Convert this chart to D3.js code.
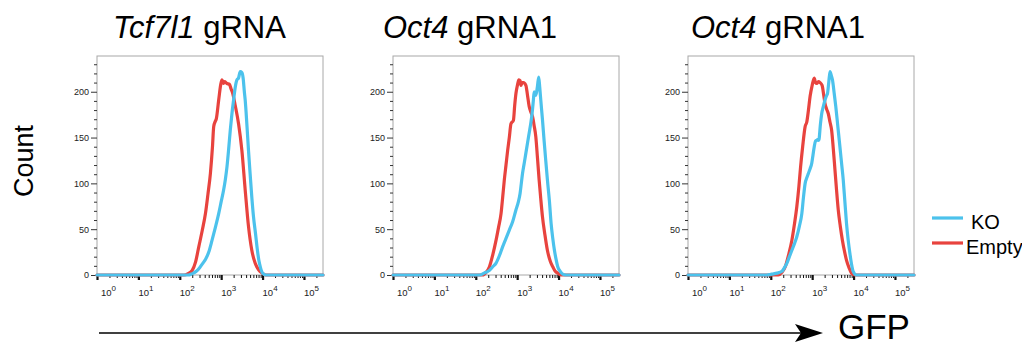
<!DOCTYPE html>
<html lang="en">
<head>
<meta charset="UTF-8">
<title>GFP histograms</title>
<script src="https://d3js.org/d3.v7.min.js"></script>
<style>
    body { margin: 0; background: #fff; }
    svg text { font-family: "Liberation Sans", Arial, sans-serif; fill: #000; }
    .frame { fill: none; stroke: #a8a8a8; stroke-width: 1px; }
    .yax line { stroke: #333; }
    .yax text { fill: #222; font-size: 9px; }
    .xax line { stroke: #111; }
    .xlab { fill: #222; font-size: 9.5px; }
    .hist { fill: none; stroke-width: 3.2px; stroke-linejoin: round; stroke-linecap: round; }
</style>
</head>
<body>
<script>
    const width = 1022, height = 347;

    // panel titles: italic gene + plain guide name
    const genes = ["Tcf7l1", "Oct4", "Oct4"];
    const guides = [" gRNA", " gRNA1", " gRNA1"];

    const yTicks = [0, 50, 100, 150, 200];
    const xDecades = [0, 1, 2, 3, 4, 5];

    const seriesNames = ["KO", "Empty"];
    const colors = {KO: "#4cc2ec", Empty: "#e8433e"};

    // histograms: [log10 GFP, count]
    const ko1 = [[0,0],[2.2,0],[2.3,1.5],[2.4,4],[2.48,8],[2.56,13],[2.62,17],[2.7,25],[2.78,38],[2.86,52],[2.94,67],[3.0,80],[3.06,93],[3.1,104],[3.14,118],[3.18,137],[3.22,158],[3.26,176],[3.3,191],[3.34,205],[3.38,213],[3.42,215],[3.46,222],[3.5,221],[3.53,215],[3.56,200],[3.58,191],[3.62,165],[3.66,136],[3.7,110],[3.74,85],[3.78,64],[3.83,45],[3.87,29],[3.91,16],[3.95,8],[4.0,2],[4.08,0],[5.46,0]];
    const empty1 = [[0,0],[2.1,0],[2.2,1.5],[2.3,5],[2.38,14],[2.46,31],[2.54,48],[2.62,67],[2.68,88],[2.74,111],[2.79,140],[2.82,162],[2.86,168],[2.88,170],[2.94,191],[2.99,208],[3.02,213],[3.05,209],[3.08,211],[3.14,209],[3.2,208],[3.24,203],[3.28,198],[3.34,185],[3.42,165],[3.5,136],[3.58,93],[3.66,53],[3.74,27],[3.82,13],[3.9,6],[3.99,2],[4.07,0],[5.46,0]];

    const ko2 = [[0,0],[2.09,0],[2.2,2],[2.33,5],[2.41,9],[2.49,13],[2.57,21],[2.65,31],[2.73,40],[2.81,49],[2.89,58],[2.97,71],[3.03,80],[3.07,89],[3.1,100],[3.13,111],[3.17,122],[3.21,133],[3.25,144],[3.29,155],[3.33,166],[3.36,176],[3.39,190],[3.41,200],[3.45,196],[3.49,206],[3.52,216],[3.545,205],[3.57,191],[3.61,170],[3.65,147],[3.69,125],[3.73,104],[3.78,80],[3.82,56],[3.86,40],[3.9,27],[3.94,17],[3.98,9],[4.04,4],[4.1,1],[4.18,0],[5.46,0]];
    const empty2 = [[0,0],[2.17,0],[2.25,3],[2.33,9],[2.41,22],[2.49,38],[2.55,52],[2.61,67],[2.65,85],[2.69,104],[2.73,120],[2.77,136],[2.81,150],[2.85,165],[2.91,169],[2.94,185],[2.97,198],[3.01,208],[3.04,213],[3.07,212],[3.09,207],[3.12,210],[3.15,210],[3.21,207],[3.25,196],[3.29,184],[3.33,178],[3.37,173],[3.41,163],[3.45,151],[3.49,128],[3.53,104],[3.57,83],[3.61,64],[3.67,44],[3.73,27],[3.8,15],[3.86,9],[3.92,4],[3.98,2],[4.06,0],[5.46,0]];

    const ko3 = [[0,0],[1.9,0],[2.02,1],[2.15,2],[2.27,4],[2.33,8],[2.39,13],[2.45,20],[2.51,27],[2.57,34],[2.63,42],[2.69,53],[2.75,67],[2.79,85],[2.83,100],[2.87,106],[2.91,111],[2.95,116],[2.99,122],[3.02,131],[3.05,140],[3.08,146],[3.11,147],[3.14,148],[3.16,147],[3.2,165],[3.23,176],[3.27,184],[3.31,191],[3.35,196],[3.37,198],[3.4,210],[3.43,222],[3.46,218],[3.49,213],[3.53,199],[3.57,184],[3.62,162],[3.67,140],[3.71,122],[3.75,104],[3.79,80],[3.83,56],[3.87,38],[3.91,24],[3.95,12],[3.99,4],[4.07,0],[5.46,0]];
    const empty3 = [[0,0],[2.18,0],[2.27,3],[2.35,9],[2.43,22],[2.51,38],[2.57,55],[2.63,75],[2.68,97],[2.72,118],[2.77,140],[2.83,162],[2.87,167],[2.91,180],[2.95,195],[3.0,207],[3.05,215],[3.08,210],[3.11,209],[3.15,211],[3.19,210],[3.24,207],[3.28,196],[3.31,187],[3.35,181],[3.39,176],[3.43,167],[3.47,158],[3.51,138],[3.55,115],[3.59,92],[3.63,71],[3.68,53],[3.73,38],[3.78,26],[3.83,16],[3.89,8],[3.95,2],[4.03,0],[5.46,0]];

    const panelData = [
        {KO: ko1, Empty: empty1},
        {KO: ko2, Empty: empty2},
        {KO: ko3, Empty: empty3}
    ];

    // layout
    const plotLeft = [97, 393, 688];
    const titleLeft = [113, 383, 691];
    const plotW = 226, plotTop = 56, plotBottom = 275;
    const xMaxExp = 5.46;

    const svg = d3.select("body").append("svg")
        .attr("width", width)
        .attr("height", height);

    const y = d3.scaleLinear().domain([0, 239]).range([plotBottom, plotTop]);

    plotLeft.forEach((left, i) => {
        const x = d3.scaleLog().domain([1, Math.pow(10, xMaxExp)]).range([left, left + plotW]);
        const g = svg.append("g");

        g.append("rect").attr("class", "frame")
            .attr("x", left).attr("y", plotTop)
            .attr("width", plotW).attr("height", plotBottom - plotTop);

        // y axis: minor every 10, major every 50
        const yMinor = d3.range(10, 240, 10).filter(v => v % 50 !== 0);
        g.append("g").attr("class", "yax")
            .attr("transform", `translate(${left},0)`)
            .call(d3.axisLeft(y).tickValues(yMinor).tickSize(3).tickFormat(""))
            .call(a => a.select(".domain").remove());
        g.append("g").attr("class", "yax")
            .attr("transform", `translate(${left},0)`)
            .call(d3.axisLeft(y).tickValues(yTicks).tickSize(6).tickPadding(2))
            .call(a => a.select(".domain").remove());

        // x axis: decade ticks + 2..9 minor ticks
        const xMinor = [];
        xDecades.forEach(d => {
            for (let k = 2; k <= 9; k++) {
                const v = k * Math.pow(10, d);
                if (v <= x.domain()[1]) xMinor.push(v);
            }
        });
        g.append("g").attr("class", "xax")
            .attr("transform", `translate(0,${plotBottom})`)
            .call(d3.axisBottom(x).tickValues(xMinor).tickSize(3).tickFormat(""))
            .call(a => a.select(".domain").remove());
        const xMajor = g.append("g").attr("class", "xax")
            .attr("transform", `translate(0,${plotBottom})`)
            .call(d3.axisBottom(x).tickValues(xDecades.map(d => Math.pow(10, d))).tickSize(5).tickFormat(""))
            .call(a => a.select(".domain").remove());
        xMajor.selectAll("line").attr("stroke-width", 2.2);

        xDecades.forEach((d, j) => {
            const t = g.append("text").attr("class", "xlab")
                .attr("x", x(Math.pow(10, d)) + (j === 0 ? 4 : 0))
                .attr("y", 296);
            t.append("tspan").text("10");
            t.append("tspan").attr("dy", -5).attr("font-size", "8px").text(d);
        });

        // histogram lines, red underneath blue
        const line = d3.line()
            .x(p => x(Math.pow(10, p[0])))
            .y(p => y(p[1]))
            .curve(d3.curveMonotoneX);
        ["Empty", "KO"].forEach(s => {
            g.append("path").attr("class", "hist")
                .attr("stroke", colors[s])
                .attr("d", line(panelData[i][s]));
        });

        // title
        const title = svg.append("text")
            .attr("x", titleLeft[i]).attr("y", 37.5)
            .attr("font-size", "31px");
        title.append("tspan").attr("font-style", "italic").text(genes[i]);
        title.append("tspan").text(guides[i]);
    });

    // y label
    svg.append("text")
        .attr("transform", "translate(33,161) rotate(-90)")
        .attr("text-anchor", "middle")
        .attr("font-size", "27px")
        .text("Count");

    // GFP arrow
    svg.append("line")
        .attr("x1", 99).attr("x2", 802).attr("y1", 333).attr("y2", 333)
        .attr("stroke", "#000").attr("stroke-width", 1.6);
    svg.append("path")
        .attr("d", "M795,324 L823,333 L795,342 L801,333 Z")
        .attr("fill", "#000");
    svg.append("text")
        .attr("x", 838).attr("y", 339)
        .attr("font-size", "35px")
        .text("GFP");

    // legend
    const legend = svg.append("g");
    seriesNames.forEach((s, i) => {
        const ly = 218 + i * 25;
        legend.append("line")
            .attr("x1", 932).attr("x2", 963).attr("y1", ly).attr("y2", ly)
            .attr("stroke", colors[s]).attr("stroke-width", 3.2);
        legend.append("text")
            .attr("x", i === 0 ? 971 : 966).attr("y", ly + 11)
            .attr("font-size", "20px")
            .text(s);
    });
</script>
</body>
</html>
